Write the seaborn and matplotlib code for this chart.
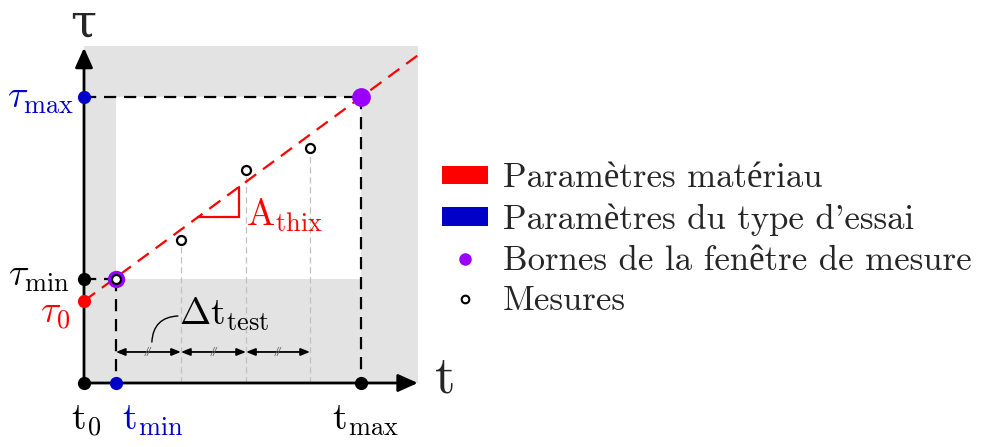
import numpy as np
import pandas as pd
import matplotlib
matplotlib.use("Agg")
import matplotlib.pyplot as plt
import seaborn as sns
from matplotlib.patches import Rectangle, Patch
from matplotlib.lines import Line2D

# ---------------- data (schematic units) ----------------
t0 = 0.0
t_min = 1.15
t_max = 10.0
t_axis_end = 12.05
tau0 = 2.96
tau_min = 3.75
tau_max = 10.32
tau_axis_end = 12.1
tau_window_end = 12.17
A_thix = (tau_max - tau0) / t_max
meas_t = [1.15, 3.50, 5.85, 8.16]
meas_tau = [3.75, 5.16, 7.69, 8.48]
slope_tri_t = [4.12, 5.60]
dt_arrow_tau = 1.12
dt_connector_t = [2.45, 3.39]
dt_connector_tau = [1.48, 2.42]
legend_labels = ["Paramètres matériau", "Paramètres du type d'essai",
                 "Bornes de la fenêtre de mesure", "Mesures"]

RED = "#ff0000"
BLUE = "#0000c8"
PURPLE = "#9900ff"
GREY = "#e3e3e3"
PX = 27.7  # pixels per unit (for view limits only)

sns.set_theme(style="white")
plt.rcParams["mathtext.fontset"] = "cm"
plt.rcParams["font.family"] = ["cmr10", "Liberation Serif", "DejaVu Serif"]
plt.rcParams["axes.formatter.use_mathtext"] = True

fig = plt.figure(figsize=(9.81, 4.47), dpi=100)
ax = fig.add_axes([0, 0, 1, 1])
ax.set_xlim(-84 / PX, (981 - 84) / PX)
ax.set_ylim(-64 / PX, 383 / PX)
ax.axis("off")

# grey region and white measurement window
ax.add_patch(Rectangle((t0, 0), t_axis_end - t0, tau_window_end, facecolor=GREY,
                       edgecolor="none", zorder=0))
ax.add_patch(Rectangle((t_min, tau_min), t_max - t_min, tau_max - tau_min,
                       facecolor="white", edgecolor="none", zorder=0.5))

# thin grey dashed verticals from the measurements
for tm, vm in zip(meas_t[1:], meas_tau[1:]):
    ax.plot([tm, tm], [0, vm], color="#c0c0c0", lw=0.9, dashes=(5, 3), zorder=1)

# black dashed bounds
kw = dict(color="black", lw=1.6, dashes=(5.5, 3.5), zorder=2)
ax.plot([t0, t_max], [tau_max, tau_max], **kw)
ax.plot([t_max, t_max], [tau_max, 0], **kw)
ax.plot([t_min, t_min], [tau_min, 0], **kw)
ax.plot([t0, t_min], [tau_min, tau_min], **kw)

# red material line
line_t = np.array([t0, t_axis_end])
df_line = pd.DataFrame({"t": line_t, "tau": tau0 + A_thix * line_t})
sns.lineplot(data=df_line, x="t", y="tau", ax=ax, color=RED, lw=1.6,
             dashes=False, zorder=3)
ax.lines[-1].set_dashes((6.2, 3.8))

# slope triangle
ta, tb = slope_tri_t
ax.plot([ta, tb, tb], [tau0 + A_thix * ta, tau0 + A_thix * ta, tau0 + A_thix * tb],
        color=RED, lw=1.6, zorder=3, solid_joinstyle="miter")

# axes with arrows
arr = dict(arrowstyle="-|>,head_length=1.0,head_width=0.45", color="black", lw=2.0,
           shrinkA=0, shrinkB=0)
ax.annotate("", xy=(t_axis_end, 0), xytext=(t0, 0), arrowprops=arr, zorder=4)
ax.annotate("", xy=(t0, tau_axis_end), xytext=(t0, 0), arrowprops=arr, zorder=4)

# delta t arrows
for a, b in zip(meas_t[:-1], meas_t[1:]):
    ax.annotate("", xy=(b, dt_arrow_tau), xytext=(a, dt_arrow_tau),
                arrowprops=dict(arrowstyle="<|-|>,head_length=0.45,head_width=0.18",
                                color="black", lw=1.3, shrinkA=0, shrinkB=0), zorder=4)
    ax.text((a + b) / 2, dt_arrow_tau, "//", fontsize=7, color="#666666", ha="center",
            va="center", family="DejaVu Sans", style="italic", zorder=5)

# points
ms = 9.5
ax.plot([t0, t0, t_max], [0, tau_min, 0], "o", color="black", ms=ms, mew=0, zorder=6)
ax.plot([t0, t_min], [tau_max, 0], "o", color=BLUE, ms=ms, mew=0, zorder=6)
ax.plot([t0], [tau0], "o", color=RED, ms=ms, mew=0, zorder=6)
ax.plot([t_max], [tau_max], "o", color=PURPLE, ms=13.5, mew=0, zorder=6)
ax.plot([t_min], [tau_min], "o", color=PURPLE, ms=12.5, mew=0, zorder=6)
df_meas = pd.DataFrame({"t": meas_t, "tau": meas_tau})
sns.scatterplot(data=df_meas, x="t", y="tau", ax=ax, s=42, facecolor="white",
                edgecolor="black", linewidth=1.6, zorder=7)

# labels
big = 34
lab = 27
ax.annotate("τ", xy=(t0, tau_axis_end), xytext=(-1, 24), textcoords="offset pixels",
            fontsize=big, ha="center", va="center", family="DejaVu Serif")
ax.annotate(r"$\mathrm{t}$", xy=(t_axis_end, 0), xytext=(26, 4), textcoords="offset pixels",
            fontsize=big + 4, ha="center", va="center")

ax.annotate(r"$\tau_{\mathrm{max}}$", xy=(t0, tau_max), xytext=(-10, -2),
            textcoords="offset pixels", fontsize=lab, ha="right", va="center", color=BLUE)
ax.annotate(r"$\tau_{\mathrm{min}}$", xy=(t0, tau_min), xytext=(-14, 2),
            textcoords="offset pixels", fontsize=lab, ha="right", va="center", color="black")
ax.annotate(r"$\tau_{0}$", xy=(t0, tau0), xytext=(-14, -14),
            textcoords="offset pixels", fontsize=lab, ha="right", va="center", color=RED)
ax.annotate(r"$\mathrm{t}_{0}$", xy=(t0, 0), xytext=(2, -38),
            textcoords="offset pixels", fontsize=lab, ha="center", va="center", color="black")
ax.annotate(r"$\mathrm{t}_{\mathrm{min}}$", xy=(t_min, 0), xytext=(6, -38),
            textcoords="offset pixels", fontsize=lab, ha="left", va="center", color=BLUE)
ax.annotate(r"$\mathrm{t}_{\mathrm{max}}$", xy=(t_max, 0), xytext=(4, -38),
            textcoords="offset pixels", fontsize=lab, ha="center", va="center", color="black")
ax.annotate(r"$\mathrm{A}_{\mathrm{thix}}$", xy=(tb, tau0 + A_thix * ta), xytext=(7, 2),
            textcoords="offset pixels", fontsize=lab, ha="left", va="center", color=RED)

# delta t label with curved connector
ax.annotate("", xy=(dt_connector_t[1], dt_connector_tau[1]),
            xytext=(dt_connector_t[0], dt_connector_tau[0]),
            arrowprops=dict(arrowstyle="-", color="black", lw=1.0, shrinkA=0, shrinkB=0,
                            connectionstyle="arc3,rad=-0.45"))
ax.annotate(r"$\Delta\mathrm{t}_{\mathrm{test}}$", xy=(dt_connector_t[1], dt_connector_tau[1]),
            xytext=(1, 2), textcoords="offset pixels", fontsize=lab, ha="left",
            va="center", color="black")

# legend
handles = [Patch(facecolor=RED, edgecolor="none"),
           Patch(facecolor=BLUE, edgecolor="none"),
           Line2D([], [], marker="o", ls="none", color=PURPLE, ms=9, mew=0),
           Line2D([], [], marker="o", ls="none", mfc="white", mec="black", ms=5.5, mew=1.5)]
ax.legend(handles, legend_labels, loc="center left",
          bbox_to_anchor=(442 / 981, (447 - 240) / 447), frameon=False, fontsize=25,
          handlelength=1.33, handleheight=0.45, handletextpad=0.43, labelspacing=0.26,
          borderpad=0, borderaxespad=0)

fig.savefig("out.png", dpi=100)
